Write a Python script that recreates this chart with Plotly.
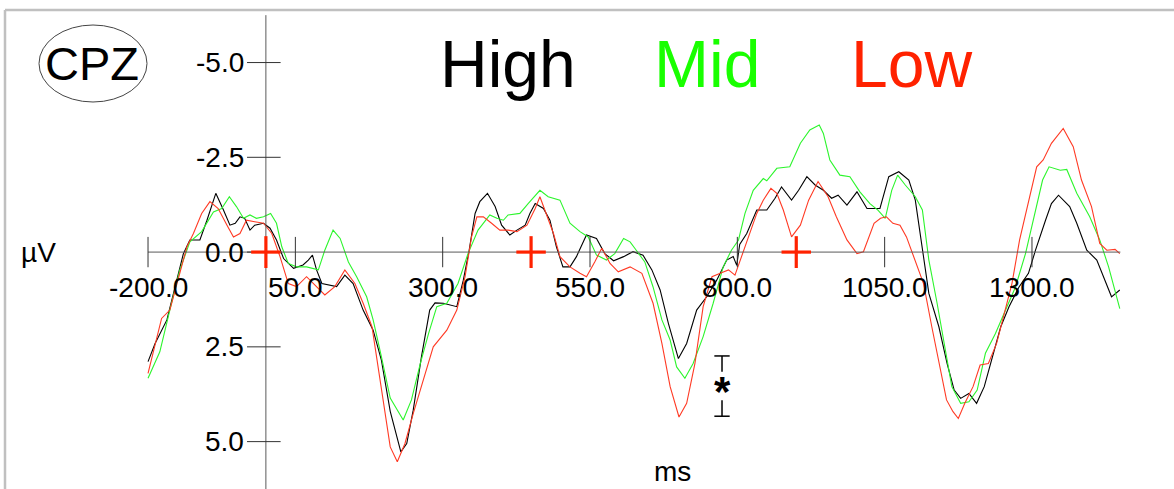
import plotly.graph_objects as go

# ---- ERP waveforms at electrode CPZ (time in ms, amplitude in µV) ----
t_high = [-200, -188, -168, -151, -140, -129, -112, -100, -85, -72,
          -61, -52, -44, -36, -27, -19, -4, 7, 18, 30,
          47, 63, 72, 79, 86, 95, 109, 120, 134, 148,
          165, 182, 196, 211, 229, 239, 250, 264, 278, 287,
          301, 324, 335, 345, 355, 363, 376, 389, 400, 414,
          426, 440, 448, 457, 471, 482, 493, 504, 516, 527,
          544, 561, 575, 590, 607, 623, 640, 655, 669, 683,
          700, 714, 731, 748, 765, 782, 793, 799, 804, 816,
          833, 850, 864, 875, 892, 904, 918, 932, 946, 960,
          971, 986, 1003, 1020, 1042, 1057, 1074, 1091, 1102, 1114,
          1125, 1142, 1156, 1168, 1179, 1193, 1206, 1219, 1233, 1247,
          1261, 1278, 1294, 1306, 1323, 1333, 1345, 1364, 1376, 1393,
          1410, 1421, 1435, 1449]
v_high = [2.89, 2.41, 1.79, 0.74, 0.04, -0.32, -0.32, -0.84, -1.55, -1.11,
          -0.71, -0.76, -0.93, -0.89, -0.58, -0.71, -0.76, -0.63, -0.32, 0.17,
          0.43, 0.34, 0.21, 0.08, 0.47, 0.83, 0.87, 0.91, 0.61, 0.83,
          1.53, 2.06, 2.85, 4.20, 5.27, 5.05, 4.17, 2.76, 1.53, 1.34,
          1.35, 1.44, 0.74, -0.05, -1.02, -1.33, -1.55, -1.20, -0.71, -0.45,
          -0.58, -0.71, -1.02, -1.28, -1.15, -0.84, -0.14, 0.39, 0.39, 0.12,
          -0.45, -0.36, 0.04, 0.23, 0.12, -0.01, 0.08, 0.47, 1.00, 1.88,
          2.81, 2.41, 1.53, 1.18, 0.74, 0.21, 0.12, 0.35, -0.20, -0.49,
          -1.11, -1.11, -1.42, -1.72, -1.37, -1.63, -1.99, -1.77, -1.63, -1.42,
          -1.50, -1.24, -1.59, -1.15, -1.15, -1.99, -2.12, -1.90, -1.37, -0.05,
          1.09, 1.97, 2.94, 3.64, 3.86, 3.73, 3.99, 3.55, 2.76, 1.97,
          1.44, 0.92, 0.56, -0.05, -0.84, -1.28, -1.50, -1.20, -0.76, -0.05,
          0.21, 0.65, 1.18, 1.00]

t_mid = [-200, -180, -163, -146, -129, -109, -89, -75, -62, -50,
         -38, -27, -16, -4, 8, 18, 27, 38, 52, 69,
         89, 100, 114, 126, 140, 154, 171, 182, 196, 211,
         233, 247, 262, 276, 290, 307, 326, 343, 360, 380,
         392, 403, 411, 431, 445, 465, 479, 499, 516, 533,
         547, 561, 578, 592, 607, 618, 626, 643, 657, 672,
         686, 697, 711, 725, 742, 759, 776, 790, 802, 813,
         827, 844, 850, 867, 889, 907, 923, 939, 946, 957,
         974, 991, 1008, 1025, 1039, 1051, 1062, 1072, 1085, 1102,
         1114, 1125, 1139, 1153, 1164, 1179, 1193, 1207, 1221, 1238,
         1255, 1272, 1289, 1306, 1318, 1329, 1348, 1359, 1376, 1398,
         1415, 1430, 1449]
v_mid = [3.33, 2.63, 1.53, 0.47, -0.27, -0.54, -1.06, -1.15, -1.46, -1.20,
         -0.89, -0.98, -0.89, -0.93, -1.02, -0.76, -0.14, 0.30, 0.39, 0.39,
         0.47, -0.05, -0.58, -0.36, 0.26, 0.65, 1.18, 1.79, 2.76, 3.85,
         4.43, 3.90, 2.94, 2.15, 1.44, 1.35, 0.83, 0.04, -0.58, -0.98,
         -0.89, -0.84, -0.98, -1.02, -1.28, -1.63, -1.46, -1.37, -0.76, -0.54,
         -0.40, 0.08, 0.21, 0.04, -0.36, -0.27, -0.10, 0.26, 0.92, 1.79,
         2.32, 3.03, 3.33, 2.94, 2.23, 1.35, 0.39, -0.05, -0.32, -1.02,
         -1.63, -1.94, -1.88, -2.21, -2.25, -2.87, -3.22, -3.35, -3.13, -2.43,
         -2.03, -1.99, -1.59, -1.28, -1.10, -0.89, -1.63, -2.03, -1.77, -1.46,
         -1.11, 0.21, 1.35, 2.59, 3.55, 3.99, 3.95, 3.64, 2.67, 2.15,
         1.53, 0.92, 0.04, -1.11, -1.90, -2.25, -2.16, -2.18, -1.55, -0.93,
         -0.32, 0.39, 1.49]

t_low = [-200, -188, -177, -163, -149, -134, -123, -109, -95, -81,
         -66, -55, -44, -33, -19, -4, 10, 24, 38, 52,
         69, 83, 100, 117, 134, 151, 165, 180, 194, 211,
         223, 236, 250, 267, 284, 307, 324, 338, 349, 358,
         369, 383, 397, 411, 426, 443, 457, 465, 476, 488,
         499, 516, 533, 544, 558, 570, 584, 598, 618, 638,
         657, 672, 686, 701, 714, 728, 742, 757, 771, 785,
         796, 807, 821, 833, 844, 857, 867, 878, 892, 907,
         921, 937, 954, 968, 986, 1003, 1014, 1023, 1032, 1043,
         1053, 1064, 1076, 1087, 1102, 1116, 1130, 1144, 1155, 1166,
         1175, 1186, 1200, 1212, 1226, 1240, 1251, 1266, 1279, 1294,
         1308, 1319, 1333, 1353, 1370, 1384, 1401, 1415, 1427, 1441,
         1449]
v_low = [3.20, 2.41, 1.75, 1.53, 0.74, -0.14, -0.49, -1.02, -1.33, -1.15,
         -0.71, -0.40, -0.49, -0.84, -0.80, -0.76, -0.49, 0.12, 0.83, 0.91,
         0.65, 0.87, 1.13, 0.91, 0.47, 0.83, 1.35, 1.97, 3.46, 5.14,
         5.53, 5.05, 4.26, 3.38, 2.50, 2.06, 1.53, 0.65, -0.40, -0.93,
         -0.93, -0.76, -0.58, -0.58, -0.54, -0.71, -1.15, -1.46, -1.02, -0.49,
         0.12, 0.39, 0.56, 0.65, 0.26, -0.10, 0.30, 0.52, 0.39, 0.56,
         1.35, 2.41, 3.55, 4.35, 3.99, 2.94, 1.44, 0.65, 0.56, 0.47,
         0.61, 0.12, -0.49, -1.02, -1.37, -1.68, -1.55, -1.11, -0.40, -0.71,
         -1.37, -1.86, -1.46, -0.93, -0.32, 0.04, -0.01, -0.40, -0.76, -0.89,
         -0.93, -0.76, -0.71, -0.40, 0.21, 0.83, 1.97, 3.11, 3.90, 4.21,
         4.39, 3.99, 3.55, 2.98, 2.94, 2.41, 1.71, 0.83, -0.32, -1.28,
         -2.25, -2.43, -2.87, -3.26, -2.78, -1.90, -1.20, -0.23, -0.05, -0.07,
         0.04]

conditions = ["High", "Mid", "Low"]
colors = ["#000000", "#19ff00", "#ff2200"]
line_colors = ["#000000", "#2cf52c", "#ff3a24"]

# axis ticks and labels
x_ticks = [-200, 50, 300, 550, 800, 1050, 1300]
x_tick_labels = ["-200.0", "50.0", "300.0", "550.0", "800.0", "1050.0", "1300.0"]
y_ticks = [-5.0, -2.5, 0.0, 2.5, 5.0]
y_tick_labels = ["-5.0", "-2.5", "0.0", "2.5", "5.0"]

# stimulus onset markers and significance bracket
onset_times = [0, 450, 900]
sig_time = 774
sig_top, sig_mid, sig_bottom = 2.74, 3.56, 4.33

W, H = 1174, 489
X_RANGE = [-451.2, 1541.0]
Y_RANGE = [6.25, -6.65]   # negative up
AX_COLOR = "#5a5a5a"
FONT = "Liberation Sans, Arial, sans-serif"

fig = go.Figure()

series = [(t_high, v_high), (t_mid, v_mid), (t_low, v_low)]
for (t, v), name, c in zip(series, conditions, line_colors):
    fig.add_trace(go.Scatter(x=t, y=v, mode="lines", name=name,
                             line=dict(color=c, width=1.1), hoverinfo="skip"))

shapes = []
# axis lines
shapes.append(dict(type="line", xref="x", yref="y", x0=-200, x1=1450, y0=0, y1=0,
                   line=dict(color=AX_COLOR, width=1)))
shapes.append(dict(type="line", xref="x", yref="y", x0=0, x1=0, y0=-6.25, y1=6.25,
                   line=dict(color=AX_COLOR, width=1)))
# tick marks crossing the axes
for xv in x_ticks:
    shapes.append(dict(type="line", xref="x", yref="y", x0=xv, x1=xv,
                       y0=-0.4, y1=0.4, line=dict(color="#333333", width=1)))
for yv in y_ticks:
    shapes.append(dict(type="line", xref="x", yref="y", x0=-32, x1=25,
                       y0=yv, y1=yv, line=dict(color="#333333", width=1)))
# onset crosses
for ot in onset_times:
    shapes.append(dict(type="line", xref="x", yref="y", x0=ot - 25, x1=ot + 25,
                       y0=0, y1=0, line=dict(color="#ff2200", width=3.2)))
    shapes.append(dict(type="line", xref="x", yref="y", x0=ot, x1=ot,
                       y0=-0.42, y1=0.42, line=dict(color="#ff2200", width=3.2)))
# significance bracket
for y0, y1 in [(sig_top, sig_top + 0.42), (sig_bottom - 0.42, sig_bottom)]:
    shapes.append(dict(type="line", xref="x", yref="y", x0=sig_time, x1=sig_time,
                       y0=y0, y1=y1, line=dict(color="black", width=1.5)))
for yv in [sig_top, sig_bottom]:
    shapes.append(dict(type="line", xref="x", yref="y", x0=sig_time - 13,
                       x1=sig_time + 13, y0=yv, y1=yv,
                       line=dict(color="black", width=1.5)))
# electrode badge
shapes.append(dict(type="circle", xref="paper", yref="paper",
                   x0=39 / W, x1=147 / W, y0=1 - 102 / H, y1=1 - 25 / H,
                   line=dict(color="#444444", width=1)))
# panel frame (top and left edges)
shapes.append(dict(type="line", xref="paper", yref="paper", x0=5 / W, x1=1,
                   y0=1 - 10 / H, y1=1 - 10 / H, line=dict(color="#c0c0c0", width=2.5)))
shapes.append(dict(type="line", xref="paper", yref="paper", x0=5 / W, x1=5 / W,
                   y0=0, y1=1 - 10 / H, line=dict(color="#c0c0c0", width=2.5)))

ann = []
for xv, lab in zip(x_ticks, x_tick_labels):
    ann.append(dict(x=xv, y=0.93, xref="x", yref="y", text=lab, showarrow=False,
                    xanchor="center", yanchor="middle",
                    font=dict(family=FONT, size=28, color="black")))
for yv, lab in zip(y_ticks, y_tick_labels):
    ann.append(dict(x=-33, y=yv, xref="x", yref="y", text=lab, showarrow=False,
                    xanchor="right", yanchor="middle",
                    font=dict(family=FONT, size=28, color="black")))
ann.append(dict(x=sig_time, y=sig_mid, xref="x", yref="y", text="<b>*</b>",
                showarrow=False, xanchor="center", yanchor="middle", yshift=-4,
                font=dict(family=FONT, size=42, color="black")))
ann.append(dict(x=38 / W, y=1 - 252 / H, xref="paper", yref="paper", text="µV",
                showarrow=False, xanchor="center", yanchor="middle",
                font=dict(family=FONT, size=28, color="black")))
ann.append(dict(x=673 / W, y=0, xref="paper", yref="paper", text="ms",
                showarrow=False, xanchor="center", yanchor="bottom", yshift=0,
                font=dict(family=FONT, size=28, color="black")))
ann.append(dict(x=92 / W, y=1 - 63 / H, xref="paper", yref="paper", text="CPZ",
                showarrow=False, xanchor="center", yanchor="middle",
                font=dict(family=FONT, size=47, color="black")))
for name, c, xc in zip(conditions, colors, [508, 707, 911]):
    ann.append(dict(x=xc / W, y=1 - 64 / H, xref="paper", yref="paper", text=name,
                    showarrow=False, xanchor="center", yanchor="middle",
                    font=dict(family=FONT, size=66, color=c)))

fig.update_layout(
    width=W, height=H,
    margin=dict(l=0, r=0, t=0, b=0),
    paper_bgcolor="white", plot_bgcolor="white",
    showlegend=False,
    xaxis=dict(range=X_RANGE, visible=False, fixedrange=True),
    yaxis=dict(range=Y_RANGE, visible=False, fixedrange=True),
    shapes=shapes, annotations=ann,
)

fig.write_html("out.html")
